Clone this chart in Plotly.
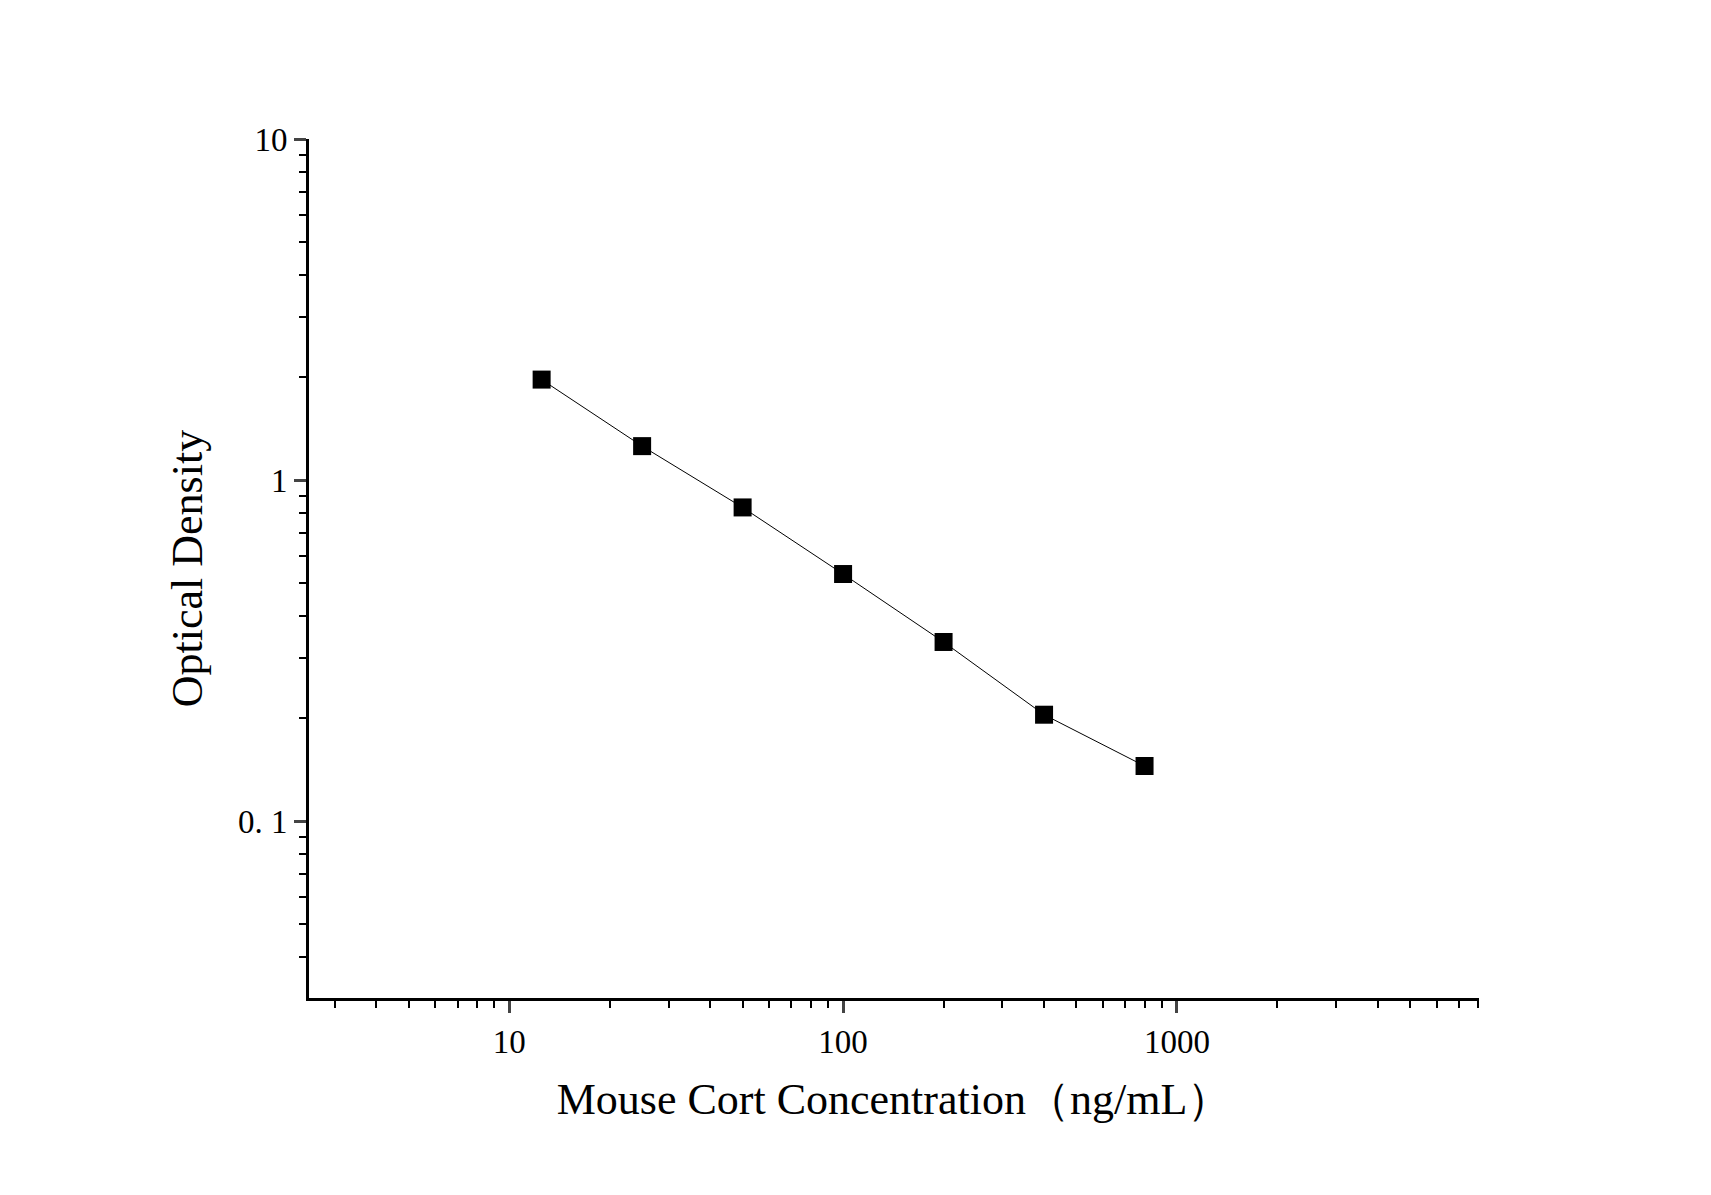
import plotly.graph_objects as go

conc = [12.5, 25, 50, 100, 200, 400, 800]
od = [1.97, 1.257, 0.831, 0.530, 0.335, 0.205, 0.145]
xticks = [10, 100, 1000]
xticklabels = ["10", "100", "1000"]
yticks = [0.1, 1, 10]
yticklabels = ["0. 1", "1", "10"]
xminor = [m * d for d in [1, 10, 100, 1000] for m in range(2, 10)]
yminor = [m * d for d in [0.01, 0.1, 1] for m in range(2, 10)]

fig = go.Figure(go.Scatter(x=conc, y=od, mode="lines+markers",
    line=dict(color="black", width=1),
    marker=dict(symbol="square", size=18, color="black")))
font = dict(family="Liberation Serif", color="black")
fig.update_layout(width=1711, height=1195, plot_bgcolor="white", paper_bgcolor="white",
    margin=dict(l=301, r=240, t=131, b=205), showlegend=False, font=font)
fig.update_xaxes(type="log", range=[0.4, 3.905], tickvals=xticks, ticktext=xticklabels,
    ticks="outside", ticklen=12, tickwidth=3, showline=True, linewidth=3, linecolor="black",
    showgrid=False, zeroline=False, tickfont=dict(size=33, **font),
    minor=dict(tickmode="array", tickvals=xminor, ticks="outside", ticklen=7, tickwidth=2,
               showgrid=False, tickcolor="black"),
    title=dict(text="Mouse Cort Concentration（ng/mL）", font=dict(size=44, **font), standoff=25))
fig.update_yaxes(type="log", range=[-1.519, 1.0], tickvals=yticks, ticktext=yticklabels,
    ticks="outside", ticklen=12, tickwidth=3, showline=True, linewidth=3, linecolor="black",
    showgrid=False, zeroline=False, tickfont=dict(size=33, **font),
    minor=dict(tickmode="array", tickvals=yminor, ticks="outside", ticklen=7, tickwidth=2,
               showgrid=False, tickcolor="black"),
    title=dict(text="Optical Density", font=dict(size=44, **font), standoff=22))
fig.write_html("out.html")
